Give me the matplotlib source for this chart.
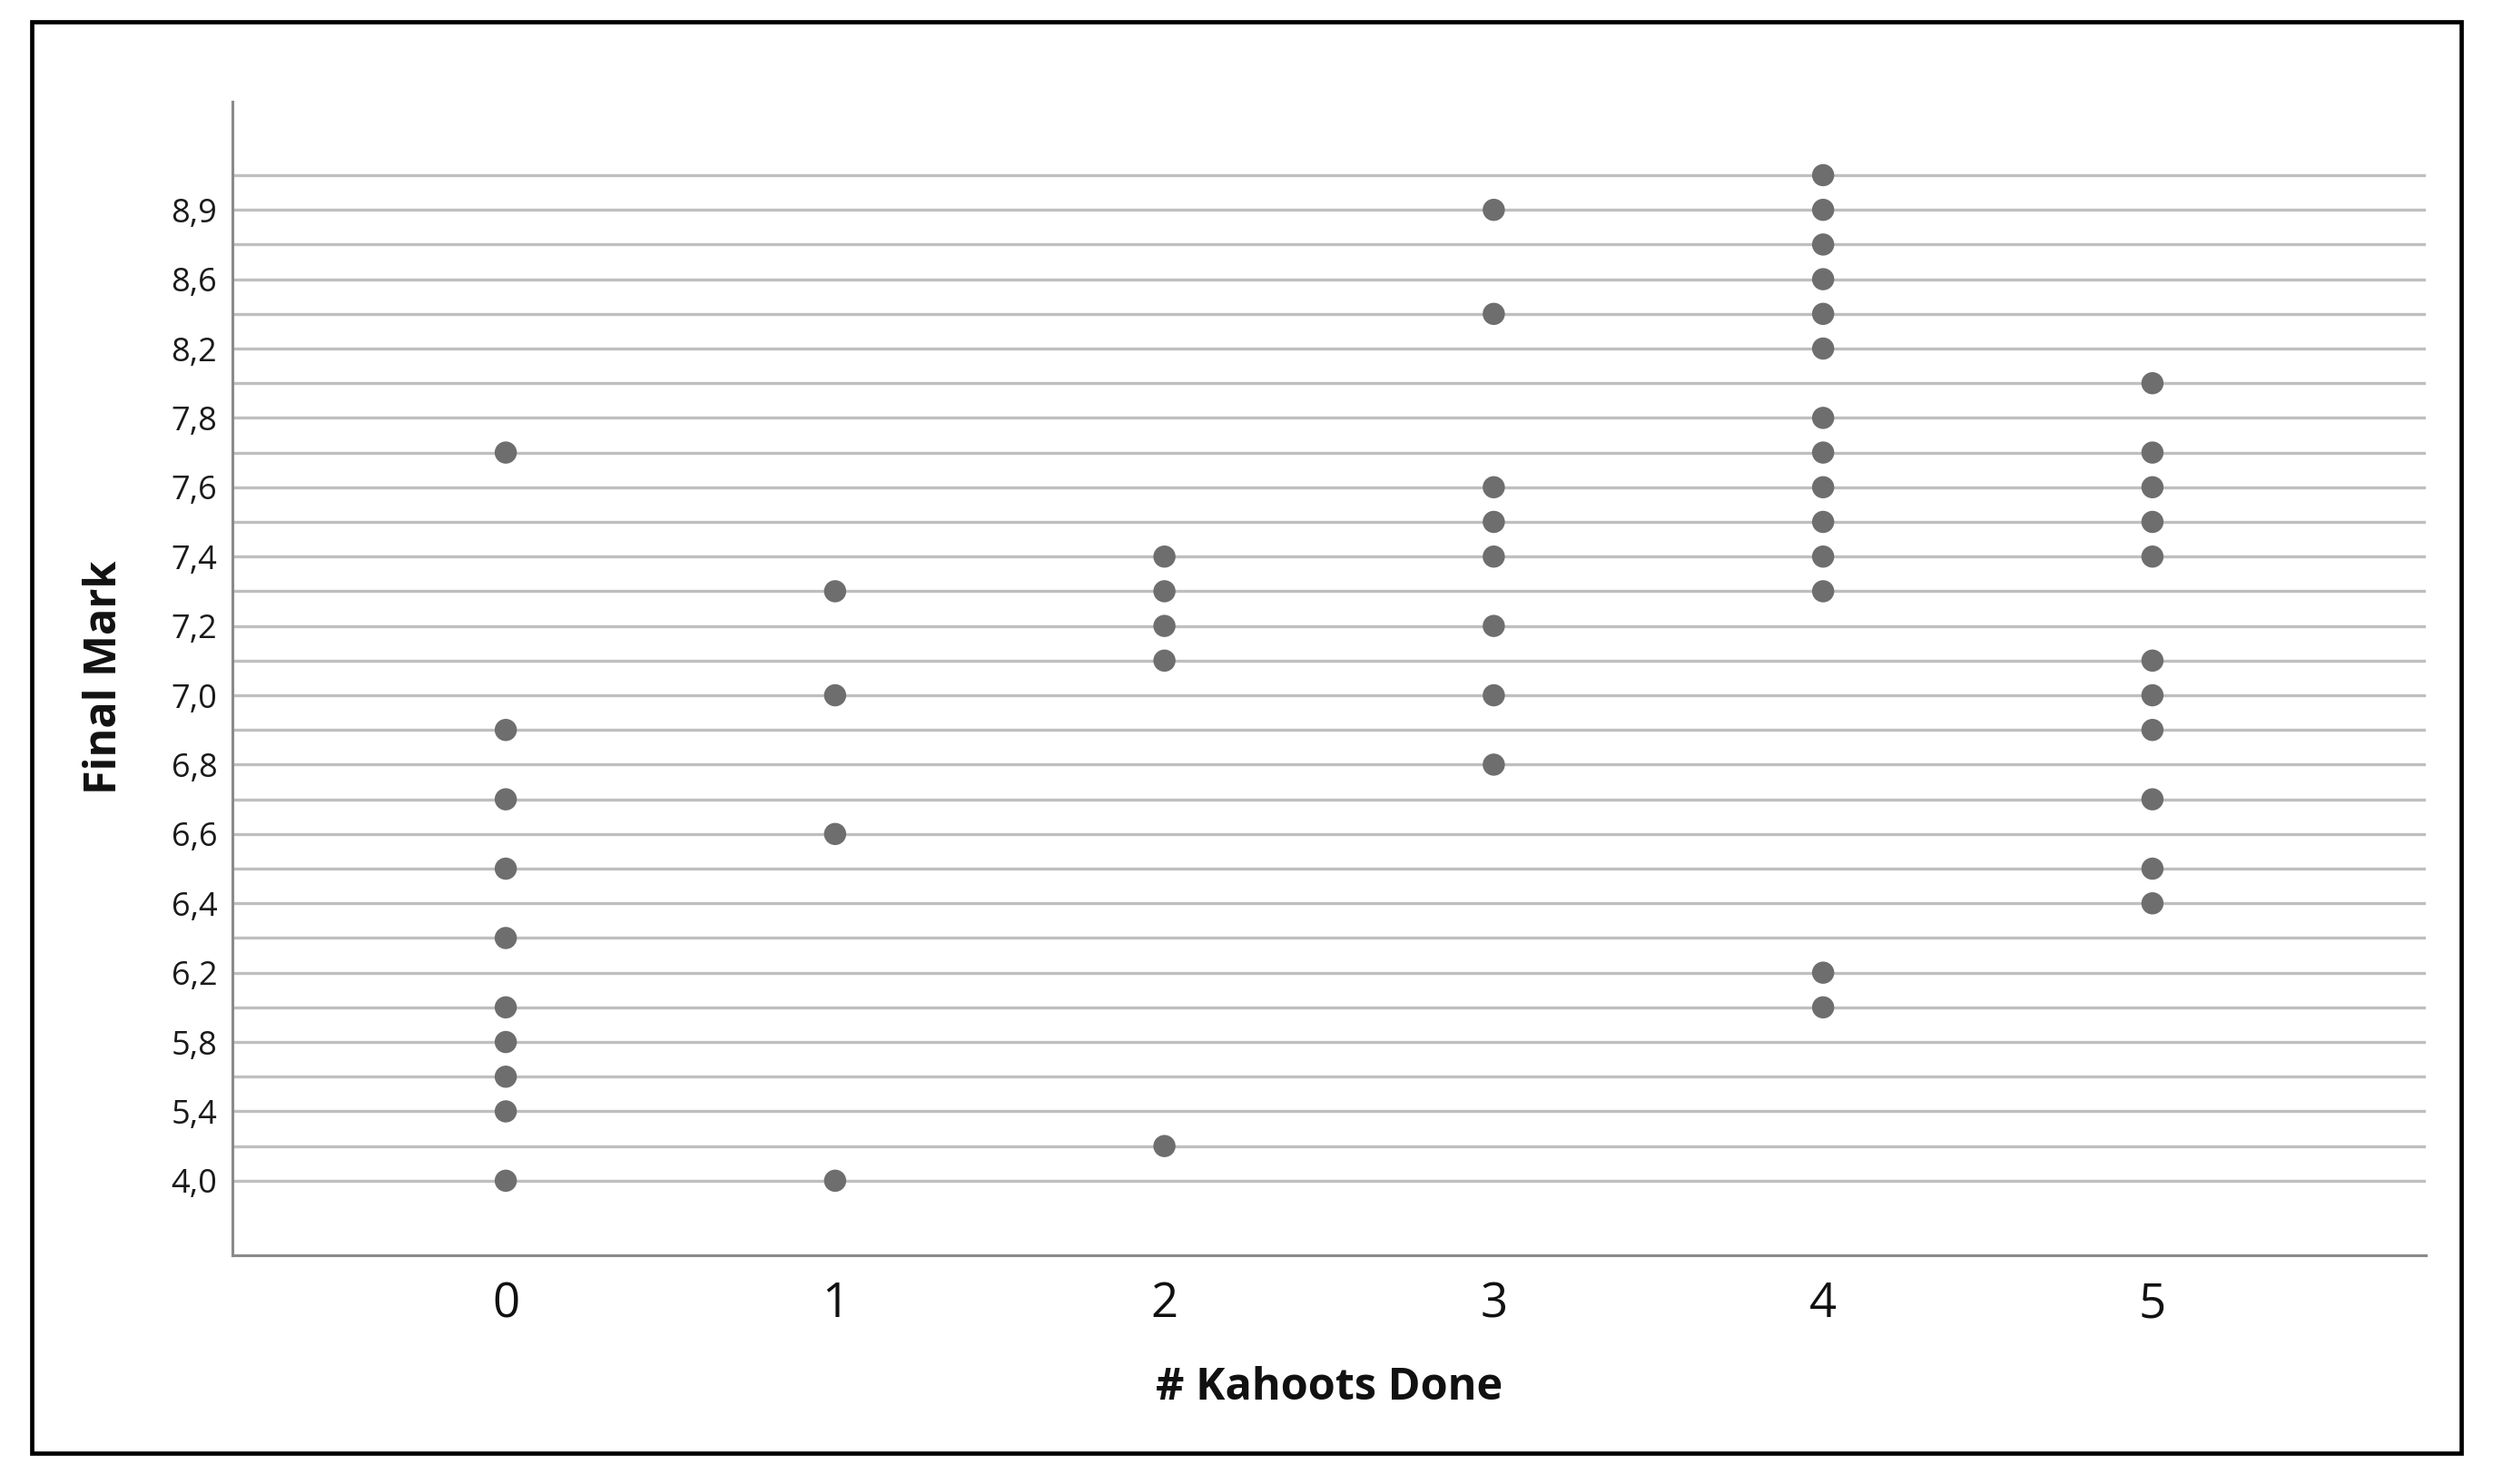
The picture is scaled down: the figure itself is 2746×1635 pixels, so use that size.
import matplotlib
matplotlib.use("Agg")
import matplotlib.pyplot as plt
from matplotlib.patches import Rectangle

# Ordered categorical levels of "Final Mark" (bottom to top)
levels = ["4,0", "5,0", "5,4", "5,6", "5,8", "6,0", "6,2", "6,3", "6,4", "6,5",
          "6,6", "6,7", "6,8", "6,9", "7,0", "7,1", "7,2", "7,3", "7,4", "7,5",
          "7,6", "7,7", "7,8", "8,0", "8,2", "8,4", "8,6", "8,7", "8,9", "9,0"]
# Only every other level is labelled on the axis
shown_labels = ["4,0", "5,4", "5,8", "6,2", "6,4", "6,6", "6,8", "7,0", "7,2",
                "7,4", "7,6", "7,8", "8,2", "8,6", "8,9"]

kahoots = [0, 1, 2, 3, 4, 5]
marks_0 = ["7,7", "6,9", "6,7", "6,5", "6,3", "6,0", "5,8", "5,6", "5,4", "4,0"]
marks_1 = ["7,3", "7,0", "6,6", "4,0"]
marks_2 = ["7,4", "7,3", "7,2", "7,1", "5,0"]
marks_3 = ["8,9", "8,4", "7,6", "7,5", "7,4", "7,2", "7,0", "6,8"]
marks_4 = ["9,0", "8,9", "8,7", "8,6", "8,4", "8,2", "7,8", "7,7", "7,6", "7,5",
           "7,4", "7,3", "6,2", "6,0"]
marks_5 = ["8,0", "7,7", "7,6", "7,5", "7,4", "7,1", "7,0", "6,9", "6,7", "6,5", "6,4"]
groups = [marks_0, marks_1, marks_2, marks_3, marks_4, marks_5]

W, H, DPI = 2746, 1635, 100
fig = plt.figure(figsize=(W / DPI, H / DPI), dpi=DPI)
fig.patch.set_facecolor("white")

# outer black frame
fig.patches.append(Rectangle((35 / W, 1 - 1601 / H), (2711 - 35) / W, (1601 - 24) / H,
                             transform=fig.transFigure, fill=False,
                             edgecolor="black", linewidth=3.4, zorder=0))

ax = fig.add_axes([256 / W, 1 - 1383 / H, (2672 - 256) / W, (1383 - 112) / H])

for k, marks in zip(kahoots, groups):
    ys = [levels.index(m) for m in marks]
    ax.scatter([k] * len(ys), ys, s=310, color="#6e6e6e", edgecolors="none",
               zorder=3)

ax.set_xlim(-0.83, 5.83)
ax.set_ylim(-2.15, 31.12)

ax.set_yticks(range(len(levels)))
ax.set_yticklabels([lv if lv in shown_labels else "" for lv in levels])
ax.set_xticks(kahoots)
ax.set_xticklabels([str(k) for k in kahoots])

ax.grid(axis="y", color="#bfbfbf", linewidth=2.4, zorder=0)
ax.grid(axis="x", visible=False)
ax.set_axisbelow(True)

for side in ("top", "right"):
    ax.spines[side].set_visible(False)
for side in ("left", "bottom"):
    ax.spines[side].set_color("#8a8a8a")
    ax.spines[side].set_linewidth(2.2)

ax.tick_params(axis="y", length=0, pad=12, labelsize=26, labelcolor="#1a1a1a")
ax.tick_params(axis="x", length=0, pad=20, labelsize=38, labelcolor="#111111")
for lab in ax.get_yticklabels() + ax.get_xticklabels():
    lab.set_fontfamily("Open Sans")

fig.text(1464 / W, 1 - 1529 / H, "# Kahoots Done", ha="center", va="center",
         fontsize=35, fontweight="bold", family="Open Sans", color="#111111")
fig.text(115 / W, 1 - 746 / H, "Final Mark", ha="center", va="center",
         rotation=90, fontsize=35, fontweight="bold", family="Open Sans",
         color="#111111")

fig.savefig("out.png", dpi=DPI)
